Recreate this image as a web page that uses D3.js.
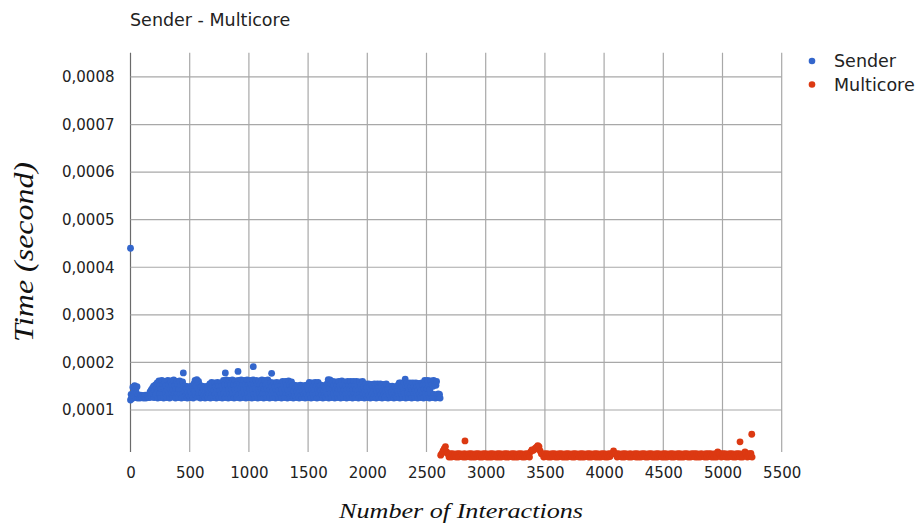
<!DOCTYPE html>
<html>
<head>
<meta charset="utf-8">
<script src="https://cdn.jsdelivr.net/npm/d3@7"></script>
<style>
  body { margin: 0; background: #fff; }
  svg { display: block; font-family: 'DejaVu Sans', sans-serif; }
</style>
</head>
<body>
<div id="chart"></div>
<script>
'use strict';

// Axis ticks
let xTicks = [0, 500, 1000, 1500, 2000, 2500, 3000, 3500, 4000, 4500, 5000, 5500];
let yTicks = [0.0001, 0.0002, 0.0003, 0.0004, 0.0005, 0.0006, 0.0007, 0.0008];

let seriesNames = ['Sender', 'Multicore'];

// Sender: one reading every 5 interactions starting at 0 (microseconds)
let senderStart = 0;
let senderStep = 5;
let senderTimes = [
    121,133,127,124,148,130,140,151,126,145,136,149,125,131,126,129,125,131,127,130,
    126,130,125,129,127,131,125,128,130,126,129,132,126,138,130,142,127,146,135,150,
    126,141,153,132,147,157,125,144,161,134,152,126,143,162,133,153,125,145,160,135,
    152,126,143,162,133,154,125,144,161,134,153,127,142,163,132,151,125,144,160,134,
    153,126,143,161,133,152,125,144,159,134,150,126,139,150,131,145,125,137,149,130,
    144,126,138,150,131,146,125,155,140,162,132,150,164,127,145,160,133,152,125,148,
    136,150,126,142,131,149,125,138,146,130,150,126,141,133,155,125,145,158,133,150,
    126,141,157,134,149,125,142,158,133,150,126,141,157,134,150,125,144,162,135,153,
    126,144,163,134,153,125,143,162,133,152,126,144,163,135,153,125,143,161,134,152,
    126,145,162,133,154,125,143,163,134,152,126,144,162,133,153,125,143,163,135,152,
    126,144,162,134,153,125,143,163,133,152,126,145,162,134,154,125,143,161,133,153,
    126,144,163,134,152,125,143,162,133,153,126,144,163,135,152,125,142,158,133,150,
    126,141,157,134,149,125,142,158,133,150,126,141,157,134,151,125,143,160,134,152,
    126,143,160,133,151,125,142,161,134,152,126,143,159,133,151,125,139,152,131,146,
    126,139,151,132,145,125,138,152,131,146,126,139,151,132,145,125,138,152,133,149,
    126,141,158,133,150,125,142,157,134,149,126,141,158,133,150,125,142,158,134,149,
    126,141,152,132,145,125,138,151,131,146,126,139,155,133,164,125,145,163,134,155,
    126,144,160,133,151,125,142,159,134,152,126,143,160,133,151,125,142,161,134,152,
    126,143,159,133,151,125,142,160,134,152,126,143,160,133,151,125,143,160,134,151,
    126,143,160,133,152,125,142,159,134,151,126,143,160,133,148,125,140,155,132,147,
    126,140,155,132,148,125,140,154,133,147,126,140,155,132,148,125,140,155,133,147,
    126,140,155,132,148,125,140,154,133,147,126,140,155,131,144,125,137,150,131,144,
    126,137,150,131,144,125,138,149,131,144,126,139,152,133,157,125,141,157,133,149,
    126,141,157,134,165,125,150,157,133,149,126,141,157,133,149,125,141,157,134,149,
    126,141,157,133,149,125,141,156,134,149,126,141,157,133,152,125,144,162,134,153,
    126,144,162,133,152,125,143,161,134,153,126,150,162,133,155,125,152,160,131,126,
    134,127,133,125
];
// Sender readings standing out of the band: [interaction, microseconds]
let senderPeaks = [[0, 440], [446, 178], [801, 178], [908, 181], [1037, 191], [1192, 177]];

// Multicore: one reading every 10 interactions starting at 2620 (microseconds)
let multicoreStart = 2620;
let multicoreStep = 10;
let multicoreTimes = [
    5,9,14,19,23,12,8,1,8,1,
    8,2,7,1,8,1,8,2,7,1,
    8,1,7,2,8,1,8,1,7,1,
    8,2,8,1,7,1,8,2,8,1,
    7,1,8,1,8,2,7,1,8,1,
    8,1,7,2,8,1,8,1,7,2,
    8,1,8,1,7,1,8,2,8,1,
    7,1,8,2,8,1,12,16,15,17,
    20,22,25,23,14,8,7,1,8,2,
    8,1,7,1,8,2,8,1,7,1,
    8,2,8,1,7,1,8,1,8,2,
    7,1,8,1,8,2,7,1,8,1,
    8,1,7,2,8,1,8,1,7,2,
    8,1,8,1,7,1,8,2,8,1,
    7,1,8,2,8,8,14,8,8,1,
    8,2,7,1,8,1,8,2,7,1,
    8,1,7,2,8,1,8,1,7,1,
    8,2,8,1,7,1,8,2,8,1,
    7,1,8,1,8,2,7,1,8,1,
    8,1,7,2,8,1,8,1,7,2,
    8,1,8,1,7,1,8,2,8,1,
    7,1,8,2,8,1,8,1,7,1,
    8,2,7,1,8,1,8,2,8,1,
    7,1,8,1,12,8,8,1,8,2,
    8,1,7,1,8,2,8,1,7,1,
    8,2,8,1,7,1,8,12,8,1,
    8,2,9,1
];
let multicorePeaks = [[2825, 35], [5148, 33], [5247, 49]];

let seriesColors = ['#3366cc', '#dc3912'];

class ScatterChart {
    /*
     - container: DOM selector
     - width / height: svg size
     - margin: [top, bottom, left, right]
     */
    #scaleX;
    #scaleY;

    constructor(container, width, height, margin) {
        this.width = width;
        this.height = height;
        this.margin = margin;

        this.svg = d3.select(container)
            .append('svg')
            .attr('width', this.width)
            .attr('height', this.height);

        this.chart = this.svg.append('g')
            .attr('transform', `translate(${this.margin[2]},${this.margin[0]})`);

        this.#scaleX = d3.scaleLinear();
        this.#scaleY = d3.scaleLinear();
    }

    #updateScales() {
        this.chartWidth = this.width - this.margin[2] - this.margin[3];
        this.chartHeight = this.height - this.margin[0] - this.margin[1];

        this.#scaleX.domain([0, 5500]).range([0, this.chartWidth]);
        this.#scaleY.domain([0.0000117, 0.000851]).range([this.chartHeight, 0]);
    }

    #drawGrid() {
        let x = this.#scaleX, y = this.#scaleY;

        // vertical grid lines (the one at 0 is the y axis)
        this.chart.selectAll('line.vgrid')
            .data(xTicks)
            .join('line')
            .classed('vgrid', true)
            .attr('x1', d => x(d)).attr('x2', d => x(d))
            .attr('y1', 0).attr('y2', this.chartHeight)
            .attr('stroke', d => d === 0 ? '#6a6a6a' : '#a8a8a8')
            .attr('stroke-width', 1.2);

        // horizontal grid lines
        this.chart.selectAll('line.hgrid')
            .data(yTicks)
            .join('line')
            .classed('hgrid', true)
            .attr('x1', 0).attr('x2', this.chartWidth)
            .attr('y1', d => y(d)).attr('y2', d => y(d))
            .attr('stroke', '#a8a8a8')
            .attr('stroke-width', 1.2);
    }

    #drawAxes() {
        let xAxis = this.chart.append('g')
            .attr('transform', `translate(0,${this.chartHeight})`)
            .call(d3.axisBottom(this.#scaleX).tickValues(xTicks).tickSize(0).tickPadding(15)
                .tickFormat(d3.format('d')));

        let yAxis = this.chart.append('g')
            .call(d3.axisLeft(this.#scaleY).tickValues(yTicks).tickSize(0).tickPadding(16)
                .tickFormat(d => d3.format('.4f')(d).replace('.', ',')));

        [xAxis, yAxis].forEach(a => {
            a.select('.domain').remove();
            a.selectAll('text')
                .attr('fill', '#222')
                .style('font-family', "'DejaVu Sans', sans-serif")
                .style('font-size', '15px');
        });
    }

    render(series) {
        this.series = series;
        this.#updateScales();
        this.#drawGrid();
        this.#drawAxes();

        let points = series.flatMap(s => s.values.map(v => ({name: s.name, color: s.color, x: v[0], y: v[1]})));

        this.chart.selectAll('circle.dot')
            .data(points)
            .join('circle')
            .classed('dot', true)
            .attr('cx', d => this.#scaleX(d.x))
            .attr('cy', d => this.#scaleY(d.y))
            .attr('r', 3.4)
            .attr('fill', d => d.color);

        // Title
        this.svg.append('text')
            .attr('x', 130).attr('y', 25.5)
            .attr('fill', '#222')
            .style('font-size', '17.5px')
            .text('Sender - Multicore');

        // Legend
        let legend = this.svg.append('g').attr('transform', 'translate(812,61)');
        series.forEach((s, i) => {
            legend.append('circle')
                .attr('cx', 0).attr('cy', i * 23.5)
                .attr('r', 3.3)
                .attr('fill', s.color);
            legend.append('text')
                .attr('x', 22).attr('y', i * 23.5 + 6)
                .attr('fill', '#222')
                .style('font-size', '17.5px')
                .text(s.name);
        });

        // Axis titles
        this.svg.append('text')
            .attr('x', 461).attr('y', 518)
            .attr('text-anchor', 'middle')
            .attr('textLength', 244).attr('lengthAdjust', 'spacingAndGlyphs')
            .style('font-family', "'Liberation Serif', serif")
            .style('font-style', 'italic')
            .style('font-size', '22px')
            .attr('fill', '#111')
            .text('Number of Interactions');

        this.svg.append('text')
            .attr('transform', 'translate(33,252) rotate(-90)')
            .attr('text-anchor', 'middle')
            .attr('textLength', 180).attr('lengthAdjust', 'spacingAndGlyphs')
            .style('font-family', "'Liberation Serif', serif")
            .style('font-style', 'italic')
            .style('font-size', '28px')
            .attr('fill', '#111')
            .text('Time (second)');
    }
}

// Build the two series: [interaction, seconds]
let senderValues = senderTimes.map((t, i) => [senderStart + i * senderStep, t * 1e-6])
    .concat(senderPeaks.map(p => [p[0], p[1] * 1e-6]));
let multicoreValues = multicoreTimes.map((t, i) => [multicoreStart + i * multicoreStep, t * 1e-6])
    .concat(multicorePeaks.map(p => [p[0], p[1] * 1e-6]));

let chart = new ScatterChart('#chart', 920, 528, [52.7, 76, 130.5, 138.3]);
chart.render([
    {name: seriesNames[0], color: seriesColors[0], values: senderValues},
    {name: seriesNames[1], color: seriesColors[1], values: multicoreValues}
]);
</script>
</body>
</html>
